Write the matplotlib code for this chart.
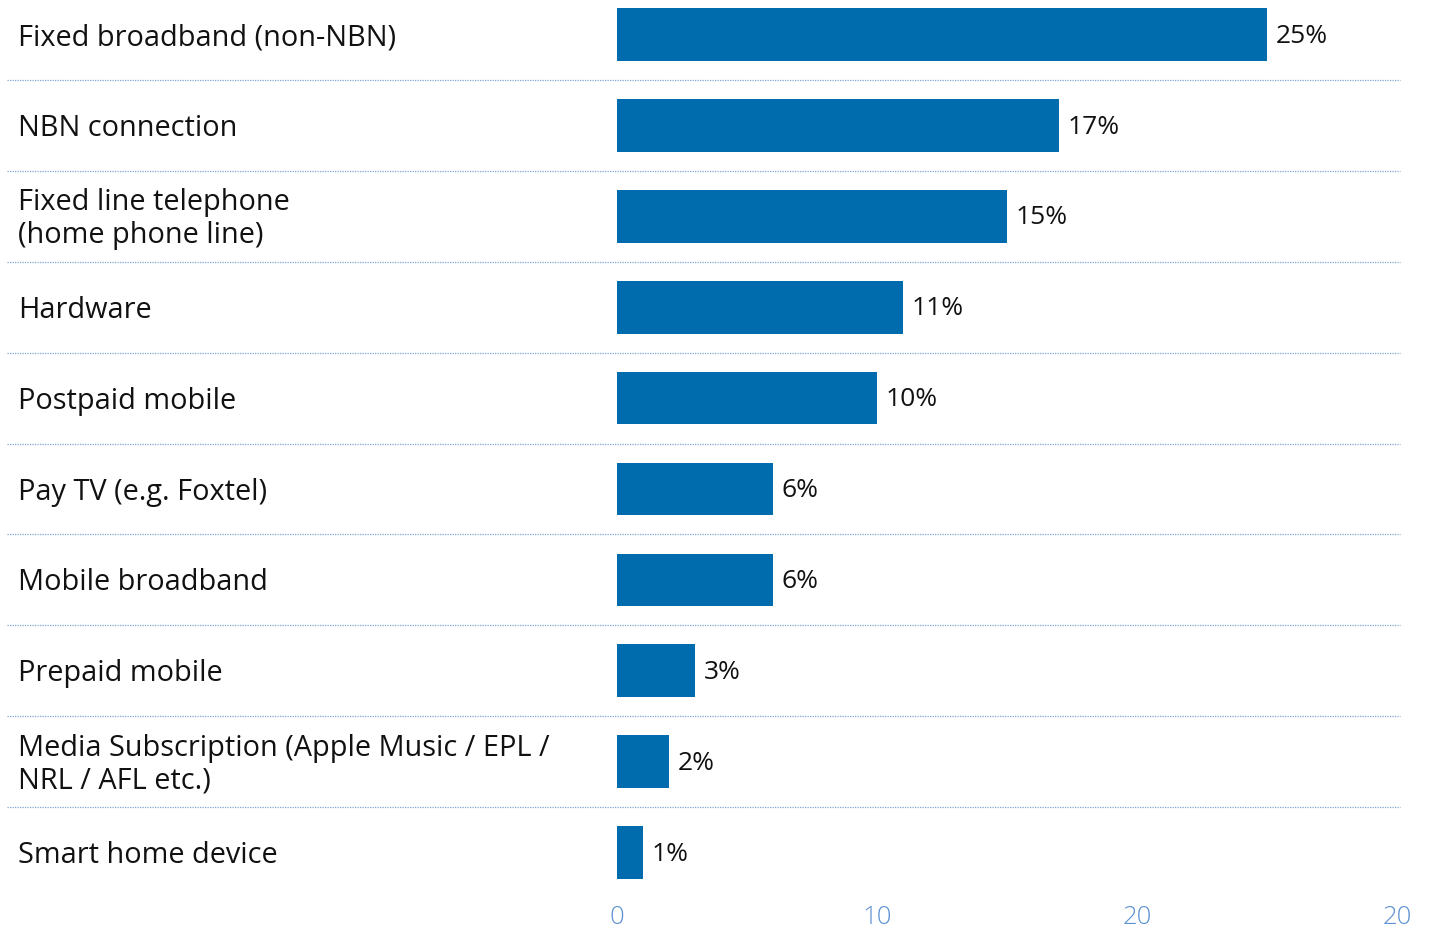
import matplotlib
matplotlib.use("Agg")
import matplotlib.pyplot as plt
import matplotlib.transforms as mtransforms

categories = [
    "Fixed broadband (non-NBN)",
    "NBN connection",
    "Fixed line telephone\n(home phone line)",
    "Hardware",
    "Postpaid mobile",
    "Pay TV (e.g. Foxtel)",
    "Mobile broadband",
    "Prepaid mobile",
    "Media Subscription (Apple Music / EPL /\nNRL / AFL etc.)",
    "Smart home device",
]
values = [25, 17, 15, 11, 10, 6, 6, 3, 2, 1]
tick_values = [0, 10, 20, 30]
tick_labels = ["0", "10", "20", "20"]

BAR_COLOR = "#006BAD"
TICK_COLOR = "#5F92D2"
SEP_COLOR = "#7FA6D6"
FONT = "Open Sans"

W, H = 1434, 929
fig = plt.figure(figsize=(W / 100, H / 100), dpi=100)
ax = fig.add_axes([617 / W, 1 - 895 / H, 780 / W, 895 / H])

n = len(categories)
ypos = list(range(n))
ax.barh(ypos, values, height=0.58, color=BAR_COLOR, zorder=3)

ax.set_xlim(0, 30)
ax.set_ylim(9.455, -0.39)

# value labels beside each bar
for y, v in zip(ypos, values):
    ax.annotate(f"{v}%", xy=(v, y), xytext=(6, -0.5), textcoords="offset points",
                va="center", ha="left", fontsize=19, family=FONT, color="#111111")

# category labels on the left, in figure x / data y
lab_tr = mtransforms.blended_transform_factory(fig.transFigure, ax.transData)
for y, c in zip(ypos, categories):
    ax.annotate(c, xy=(18 / W, y), xycoords=lab_tr, xytext=(0, -1.5),
                textcoords="offset points", ha="left", va="center",
                fontsize=20.8, family=FONT, color="#111111", linespacing=1.18,
                annotation_clip=False)

# dotted separators between rows
for i in range(n - 1):
    ax.plot([7 / W, 1400 / W], [i + 0.5, i + 0.5], transform=lab_tr,
            color=SEP_COLOR, lw=0.9, ls=(0, (1, 1)), clip_on=False, zorder=1)

ax.set_xticks(tick_values)
ax.set_xticklabels(tick_labels, fontsize=18.5, family=FONT, color=TICK_COLOR,
                   fontweight="light")
ax.tick_params(axis="x", length=0, pad=7)
ax.set_yticks([])
for s in ax.spines.values():
    s.set_visible(False)

fig.savefig("out.png", dpi=100, facecolor="white")
